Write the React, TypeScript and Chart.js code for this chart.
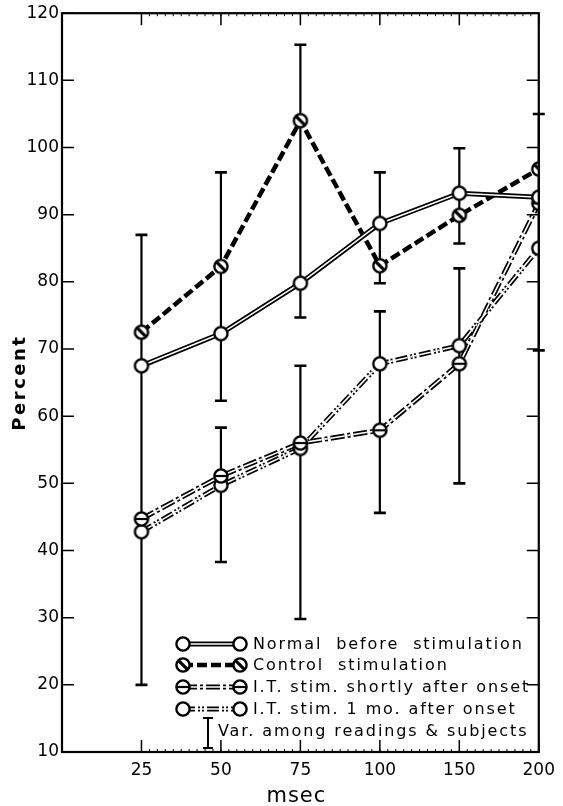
import React, { useEffect, useRef } from 'react';
import { Chart, registerables } from 'chart.js';

Chart.register(...registerables);

// ---- data ----
const categories = ['25', '50', '75', '100', '150', '200'];
const normalBefore = [67.5, 72.3, 79.8, 88.7, 93.2, 92.6];
const controlStim = [72.5, 82.3, 104, 82.4, 89.9, 96.8];
const itShortly = [44.7, 51.1, 56, 57.9, 67.8, 91.7];
const itOneMonth = [42.8, 49.7, 55.2, 67.8, 70.5, 85];

const errCategory = ['25', '50', '50', '75', '75', '100', '100', '150', '150', '200'];
const errLow = [20, 62.3, 38.3, 74.7, 29.8, 79.8, 45.6, 85.7, 50, 69.8];
const errHigh = [87, 96.3, 58.3, 115.3, 67.5, 96.3, 75.6, 99.9, 82, 105];

const seriesLabels = [
  'Normal  before  stimulation',
  'Control  stimulation',
  'I.T. stim. shortly after onset',
  'I.T. stim. 1 mo. after onset',
];
const errorLegendLabel = 'Var. among readings & subjects';
const xTitle = 'msec';
const yTitle = 'Percent';

const FONT = 'DejaVu Sans';

type Kind = 'open' | 'slash' | 'bar';
type Style = { width: number; dash: number[]; hollow: boolean; marker: Kind };

const styles: Style[] = [
  { width: 5, dash: [], hollow: true, marker: 'open' },
  { width: 4.5, dash: [10, 4], hollow: false, marker: 'slash' },
  { width: 5, dash: [14, 3, 3, 3], hollow: true, marker: 'bar' },
  { width: 5, dash: [12, 3, 2, 2, 2, 3], hollow: true, marker: 'open' },
];
const seriesValues = [normalBefore, controlStim, itShortly, itOneMonth];

function makeMarker(kind: Kind): HTMLCanvasElement {
  const c = document.createElement('canvas');
  c.width = 18;
  c.height = 18;
  const g = c.getContext('2d')!;
  g.beginPath();
  g.arc(9, 9, 6.6, 0, Math.PI * 2);
  g.fillStyle = '#fff';
  g.fill();
  g.lineWidth = 2.4;
  g.strokeStyle = '#000';
  g.stroke();
  if (kind === 'slash') {
    g.beginPath();
    g.moveTo(4.6, 4.6);
    g.lineTo(13.4, 13.4);
    g.lineWidth = 3.2;
    g.stroke();
  } else if (kind === 'bar') {
    g.beginPath();
    g.moveTo(2.5, 9);
    g.lineTo(15.5, 9);
    g.lineWidth = 2.2;
    g.stroke();
  }
  return c;
}

export default function App() {
  const ref = useRef<HTMLCanvasElement>(null);

  useEffect(() => {
    const canvas = ref.current!;
    const markers = styles.map((s) => makeMarker(s.marker));
    const pts = (vals: number[]) => vals.map((v, i) => ({ x: i + 1, y: v }));

    const datasets: any[] = [];
    seriesValues.forEach((vals, si) => {
      const st = styles[si];
      datasets.push({
        label: seriesLabels[si] + ' (line)',
        data: pts(vals),
        borderColor: '#000',
        borderWidth: st.width,
        borderDash: st.dash,
        borderCapStyle: 'butt',
        pointRadius: 0,
        tension: 0,
        fill: false,
        order: 3,
      });
      if (st.hollow) {
        datasets.push({
          label: seriesLabels[si] + ' (inner)',
          data: pts(vals),
          borderColor: '#fff',
          borderWidth: 1.6,
          borderDash: st.dash,
          borderCapStyle: 'butt',
          pointRadius: 0,
          tension: 0,
          fill: false,
          order: 2,
        });
      }
      datasets.push({
        label: seriesLabels[si],
        data: pts(vals),
        showLine: false,
        pointStyle: markers[si],
        pointRadius: 9,
        order: 1,
      });
    });

    const decor = {
      id: 'decor',
      beforeDatasetsDraw(chart: any) {
        const ctx = chart.ctx;
        const xs = chart.scales.x;
        const ys = chart.scales.y;
        ctx.save();
        ctx.strokeStyle = '#000';
        errCategory.forEach((cat, i) => {
          const x = xs.getPixelForValue(categories.indexOf(cat) + 1);
          const y1 = ys.getPixelForValue(errLow[i]);
          const y2 = ys.getPixelForValue(errHigh[i]);
          ctx.lineWidth = 2.2;
          ctx.beginPath();
          ctx.moveTo(x, y1);
          ctx.lineTo(x, y2);
          ctx.stroke();
          ctx.lineWidth = 2.6;
          ctx.beginPath();
          ctx.moveTo(x - 6, y1);
          ctx.lineTo(x + 6, y1);
          ctx.moveTo(x - 6, y2);
          ctx.lineTo(x + 6, y2);
          ctx.stroke();
        });
        ctx.restore();
      },
      afterDraw(chart: any) {
        const ctx = chart.ctx;
        const a = chart.chartArea;
        const xs = chart.scales.x;
        const ys = chart.scales.y;
        ctx.save();
        ctx.strokeStyle = '#000';
        ctx.fillStyle = '#000';
        // frame
        ctx.lineWidth = 2.2;
        ctx.strokeRect(a.left, a.top, a.right - a.left, a.bottom - a.top);
        // inward major ticks
        ctx.lineWidth = 1.5;
        ctx.beginPath();
        xs.ticks.forEach((t: any) => {
          const x = xs.getPixelForValue(t.value);
          ctx.moveTo(x, a.bottom);
          ctx.lineTo(x, a.bottom - 12);
          ctx.moveTo(x, a.top);
          ctx.lineTo(x, a.top + 12);
        });
        ys.ticks.forEach((t: any) => {
          const y = ys.getPixelForValue(t.value);
          ctx.moveTo(a.left, y);
          ctx.lineTo(a.left + 12, y);
          ctx.moveTo(a.right, y);
          ctx.lineTo(a.right - 12, y);
        });
        ctx.stroke();
        // minor dotted ticks on x axes
        ctx.lineWidth = 1;
        ctx.beginPath();
        for (let v = 1.1; v < 6; v += 0.1) {
          const x = xs.getPixelForValue(v);
          ctx.moveTo(x, a.bottom);
          ctx.lineTo(x, a.bottom - 3);
          ctx.moveTo(x, a.top);
          ctx.lineTo(x, a.top + 3);
        }
        ctx.stroke();

        // axis titles
        ctx.font = `21px "${FONT}"`;
        ctx.textAlign = 'center';
        ctx.textBaseline = 'alphabetic';
        (ctx as any).letterSpacing = '1px';
        ctx.fillText(xTitle, (a.left + a.right) / 2 - 4, a.bottom + 50);
        ctx.save();
        ctx.translate(25, (a.top + a.bottom) / 2);
        ctx.rotate(-Math.PI / 2);
        ctx.font = `bold 18px "${FONT}"`;
        (ctx as any).letterSpacing = '2.5px';
        ctx.textBaseline = 'alphabetic';
        ctx.fillText(yTitle, 0, 0);
        ctx.restore();

        // legend
        const lx1 = a.left + 121;
        const lx2 = a.left + 178;
        const tx = a.left + 191;
        const rows = [a.bottom - 108, a.bottom - 87, a.bottom - 65, a.bottom - 43];
        ctx.font = `16px "${FONT}"`;
        (ctx as any).letterSpacing = '1.9px';
        ctx.textAlign = 'left';
        ctx.textBaseline = 'middle';
        rows.forEach((ry, si) => {
          const st = styles[si];
          ctx.setLineDash(st.dash);
          ctx.lineCap = 'butt';
          ctx.strokeStyle = '#000';
          ctx.lineWidth = st.width;
          ctx.beginPath();
          ctx.moveTo(lx1, ry);
          ctx.lineTo(lx2, ry);
          ctx.stroke();
          if (st.hollow) {
            ctx.strokeStyle = '#fff';
            ctx.lineWidth = 1.6;
            ctx.stroke();
          }
          ctx.setLineDash([]);
          const m = markers[si];
          ctx.drawImage(m, lx1 - m.width / 2, ry - m.height / 2);
          ctx.drawImage(m, lx2 - m.width / 2, ry - m.height / 2);
          ctx.fillStyle = '#000';
          ctx.fillText(seriesLabels[si], tx, ry + 1);
        });
        // error bar legend
        const ex = a.left + 146;
        const ey1 = a.bottom - 34;
        const ey2 = a.bottom - 4;
        ctx.strokeStyle = '#000';
        ctx.lineWidth = 2;
        ctx.beginPath();
        ctx.moveTo(ex, ey1);
        ctx.lineTo(ex, ey2);
        ctx.moveTo(ex - 5, ey1);
        ctx.lineTo(ex + 5, ey1);
        ctx.moveTo(ex - 5, ey2);
        ctx.lineTo(ex + 5, ey2);
        ctx.stroke();
        ctx.fillText(errorLegendLabel, a.left + 156, a.bottom - 20);
        ctx.restore();
      },
    };

    const tickFont = { family: FONT, size: 17 };
    const chart = new Chart(canvas, {
      type: 'line',
      data: { datasets },
      options: {
        animation: false,
        responsive: false,
        devicePixelRatio: 1,
        layout: { padding: { left: 0, right: 21, top: 13, bottom: 0 } },
        plugins: { legend: { display: false }, tooltip: { enabled: false } },
        scales: {
          x: {
            type: 'linear',
            min: 0,
            max: 6,
            afterBuildTicks: (s: any) => {
              s.ticks = categories.map((_, i) => ({ value: i + 1 }));
            },
            afterFit: (s: any) => {
              s.height = 54;
            },
            ticks: {
              callback: (v: any) => categories[Number(v) - 1] ?? '',
              font: tickFont,
              color: '#000',
              padding: 8,
              maxRotation: 0,
              autoSkip: false,
            },
            grid: { display: false, drawTicks: false },
            border: { display: false },
          },
          y: {
            type: 'linear',
            min: 10,
            max: 120,
            afterFit: (s: any) => {
              s.width = 62;
            },
            ticks: { stepSize: 10, font: tickFont, color: '#000', padding: 3 },
            grid: { display: false, drawTicks: false },
            border: { display: false },
          },
        },
      } as any,
      plugins: [decor],
    });
    return () => chart.destroy();
  }, []);

  return (
    <div style={{ position: 'absolute', left: 0, top: 0, width: 563, height: 806, background: '#fff' }}>
      <canvas ref={ref} width={563} height={806} style={{ display: 'block' }} />
    </div>
  );
}
